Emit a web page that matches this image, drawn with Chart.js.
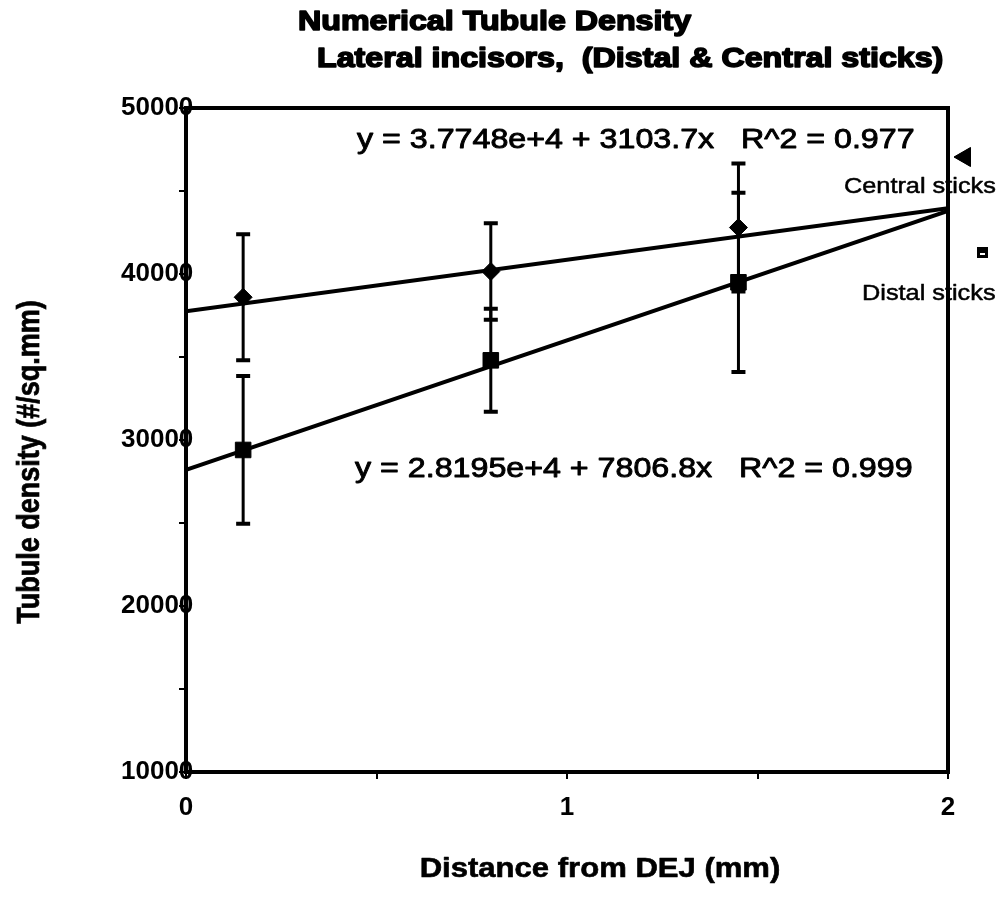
<!DOCTYPE html>
<html>
<head>
<meta charset="utf-8">
<title>Numerical Tubule Density</title>
<script src="https://cdn.jsdelivr.net/npm/chart.js@4"></script>
<style>
  html, body { margin: 0; padding: 0; background: #fff; }
  canvas { display: block; }
</style>
</head>
<body>
<canvas id="densityChart" width="1001" height="905"></canvas>
<script>
// values (mean +/- error bar half-length)
const distance = [0.15, 0.8, 1.45];
const centralDensity = [38600, 40150, 42800];
const centralError = [3800, 2900, 3850];
const distalDensity = [29400, 34800, 39500];
const distalError = [4450, 3100, 5400];

// regression lines as printed on the chart
const fitIntercept = [37748, 28195];
const fitSlope = [3103.7, 7806.8];
const fitLabels = [
    'y = 3.7748e+4 + 3103.7x   R^2 = 0.977',
    'y = 2.8195e+4 + 7806.8x   R^2 = 0.999'
];
const fitRange = [0, 2];

const seriesNames = ['Central sticks', 'Distal sticks'];
const xRange = [0, 2];
const yRange = [10000, 50000];

const FONT = '"Liberation Sans", Arial, Helvetica, sans-serif';
const STRETCH = 1.15; // the original scan is slightly wide

function fitPoints(i) {
    return fitRange.map(x => ({ x: x, y: fitIntercept[i] + fitSlope[i] * x }));
}

function toPoints(values) {
    return distance.map((x, i) => ({ x: x, y: values[i] }));
}

// text drawn a little wider (and optionally heavier) than normal, like the scan
function wideText(ctx, text, x, y, font, align, heavy) {
    ctx.save();
    ctx.font = font;
    ctx.fillStyle = '#000';
    ctx.strokeStyle = '#000';
    ctx.textAlign = align || 'left';
    ctx.textBaseline = 'alphabetic';
    ctx.translate(x, y);
    ctx.scale(STRETCH, 1);
    ctx.fillText(text, 0, 0);
    if (heavy) {
        ctx.lineWidth = heavy;
        ctx.lineJoin = 'round';
        ctx.strokeText(text, 0, 0);
    }
    ctx.restore();
}

// Error bars with caps
const errorBars = {
    id: 'errorBars',
    afterDatasetsDraw(chart) {
        const { ctx, scales: { x, y } } = chart;
        const sets = [[centralDensity, centralError], [distalDensity, distalError]];
        ctx.save();
        ctx.strokeStyle = '#000';
        sets.forEach(([vals, errs]) => {
            distance.forEach((d, i) => {
                const px = x.getPixelForValue(d);
                const top = y.getPixelForValue(vals[i] + errs[i]);
                const bot = y.getPixelForValue(vals[i] - errs[i]);
                ctx.lineWidth = 3;
                ctx.beginPath();
                ctx.moveTo(px, top);
                ctx.lineTo(px, bot);
                ctx.stroke();
                ctx.lineWidth = 4;
                ctx.beginPath();
                ctx.moveTo(px - 7, top); ctx.lineTo(px + 7, top);
                ctx.moveTo(px - 7, bot); ctx.lineTo(px + 7, bot);
                ctx.stroke();
            });
        });
        ctx.restore();
    }
};

// Titles, equations, axis titles and the odd little legend
const annotations = {
    id: 'annotations',
    afterDraw(chart) {
        const ctx = chart.ctx;
        wideText(ctx, 'Numerical Tubule Density', 298, 30, 'bold 28px ' + FONT, 'left', 1.6);
        wideText(ctx, 'Lateral incisors,  (Distal & Central sticks)', 317, 67, 'bold 28px ' + FONT, 'left', 1.6);

        wideText(ctx, fitLabels[0], 357, 148, '28px ' + FONT, 'left', 0.9);
        wideText(ctx, fitLabels[1], 355, 477, '28px ' + FONT, 'left', 0.9);

        wideText(ctx, 'Distance from DEJ (mm)', 600, 877, 'bold 27px ' + FONT, 'center', 0.6);

        ctx.save();
        ctx.translate(30, 462);
        ctx.scale(STRETCH, 1);
        ctx.rotate(-Math.PI / 2);
        ctx.font = 'bold 27px ' + FONT;
        ctx.fillStyle = '#000';
        ctx.strokeStyle = '#000';
        ctx.lineWidth = 0.6;
        ctx.textAlign = 'center';
        ctx.textBaseline = 'middle';
        ctx.fillText('Tubule density (#/sq.mm)', 0, 0);
        ctx.strokeText('Tubule density (#/sq.mm)', 0, 0);
        ctx.restore();

        // legend
        ctx.save();
        ctx.fillStyle = '#000';
        ctx.strokeStyle = '#000';
        Chart.helpers.drawPoint(ctx, { pointStyle: 'triangle', rotation: -90, radius: 11, borderWidth: 1 }, 965, 157);
        ctx.fill();
        ctx.fillRect(977, 247, 11, 11);
        ctx.fillStyle = '#fff';
        ctx.fillRect(980, 253, 5, 2);
        ctx.restore();
        wideText(ctx, seriesNames[0], 844, 193, '22px ' + FONT, 'left', 0.5);
        wideText(ctx, seriesNames[1], 862, 300, '22px ' + FONT, 'left', 0.5);
    }
};

// plot frame, drawn last so it crosses the legend text like the scan
const frame = {
    id: 'frame',
    afterDraw(chart) {
        const { ctx, chartArea: a } = chart;
        ctx.save();
        ctx.strokeStyle = '#000';
        ctx.lineWidth = 4;
        ctx.strokeRect(a.left, a.top, a.right - a.left, a.bottom - a.top);
        ctx.restore();
    }
};

new Chart(document.getElementById('densityChart'), {
    type: 'scatter',
    data: {
        datasets: [
            {
                label: seriesNames[0] + ' fit',
                data: fitPoints(0),
                showLine: true,
                borderColor: '#000',
                borderWidth: 4,
                pointRadius: 0
            },
            {
                label: seriesNames[1] + ' fit',
                data: fitPoints(1),
                showLine: true,
                borderColor: '#000',
                borderWidth: 4,
                pointRadius: 0
            },
            {
                label: seriesNames[0],
                data: toPoints(centralDensity),
                pointStyle: 'rectRot',
                pointRadius: 9,
                backgroundColor: '#000',
                borderColor: '#000'
            },
            {
                label: seriesNames[1],
                data: toPoints(distalDensity),
                pointStyle: 'rect',
                pointRadius: 11,
                backgroundColor: '#000',
                borderColor: '#000'
            }
        ]
    },
    options: {
        responsive: false,
        animation: false,
        events: [],
        layout: { padding: { top: 108, right: 53, bottom: 0, left: 0 } },
        plugins: {
            legend: { display: false },
            tooltip: { enabled: false },
            title: { display: false }
        },
        scales: {
            x: {
                type: 'linear',
                min: xRange[0],
                max: xRange[1],
                afterFit(scale) { scale.height = 133; },
                border: { display: false },
                grid: { drawOnChartArea: false, drawTicks: true, tickLength: 7, color: '#000', lineWidth: 2 },
                ticks: {
                    stepSize: 0.5,
                    autoSkip: false,
                    maxRotation: 0,
                    padding: 13,
                    color: '#000',
                    font: { family: FONT, size: 26, weight: 'bold' },
                    callback: v => Number.isInteger(v) ? String(v) : ''
                }
            },
            y: {
                type: 'linear',
                min: yRange[0],
                max: yRange[1],
                afterFit(scale) { scale.width = 186; },
                border: { display: false },
                grid: { drawOnChartArea: false, drawTicks: true, tickLength: 7, color: '#000', lineWidth: 2 },
                ticks: {
                    // mirrored + far-aligned so the last digit can run over the axis, as in the scan
                    mirror: true,
                    crossAlign: 'far',
                    stepSize: 5000,
                    autoSkip: false,
                    padding: -65,
                    color: '#000',
                    font: { family: FONT, size: 26, weight: 'bold' },
                    callback: v => v % 10000 === 0 ? String(v) : ''
                }
            }
        }
    },
    plugins: [errorBars, annotations, frame]
});
</script>
</body>
</html>
